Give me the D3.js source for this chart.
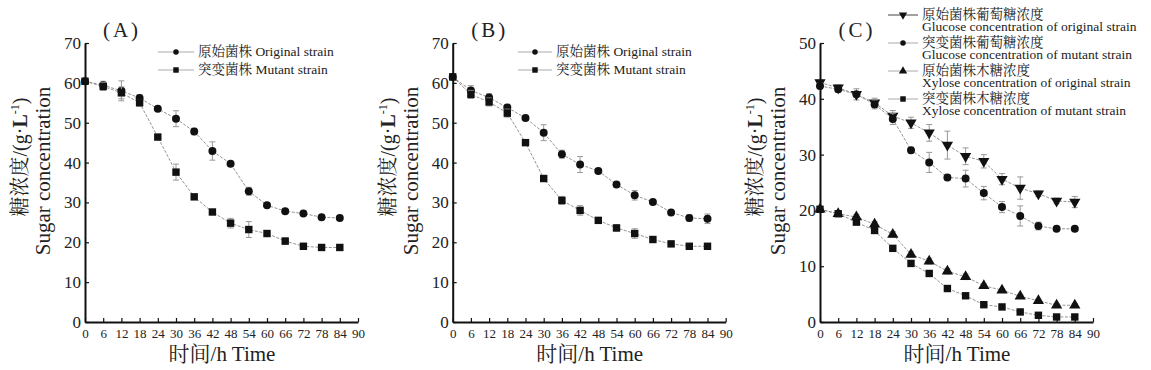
<!DOCTYPE html>
<html>
<head>
<meta charset="utf-8">
<script src="https://cdn.jsdelivr.net/npm/d3@7"></script>
<style>
  body { margin: 0; background: #fff; }
  svg { display: block; }
</style>
</head>
<body>
<svg id="chart" width="1151" height="370"></svg>
<script>
// time points (h)
const hours = [0, 6, 12, 18, 24, 30, 36, 42, 48, 54, 60, 66, 72, 78, 84];
const xTicks = [0, 6, 12, 18, 24, 30, 36, 42, 48, 54, 60, 66, 72, 78, 84, 90];

// panel A
const aOriginal = [60.4, 59.4, 58.0, 56.2, 53.5, 51.0, 47.8, 42.9, 39.7, 32.8, 29.3, 27.8, 27.2, 26.3, 26.1];
const aOriginalErr = [0.5, 1, 2.5, 0.8, 0.5, 2, 0.8, 2.3, 0.5, 1, 0.5, 0.5, 0.5, 0.5, 0.5];
const aMutant = [60.4, 59.1, 57.5, 55.0, 46.4, 37.6, 31.4, 27.6, 24.8, 23.2, 22.2, 20.3, 19.0, 18.7, 18.7];
const aMutantErr = [0.5, 1, 1.5, 0.8, 0.5, 2, 0.5, 0.5, 1.2, 2, 0.5, 0.8, 0.3, 0.3, 0.3];

// panel B
const bOriginal = [61.5, 58.1, 56.3, 53.8, 51.2, 47.5, 42.1, 39.5, 37.9, 34.5, 31.8, 30.1, 27.5, 26.1, 25.9];
const bOriginalErr = [0.5, 1.2, 1, 0.8, 0.5, 2, 1, 2, 0.5, 0.5, 1.2, 0.5, 0.5, 0.8, 1.2];
const bMutant = [61.5, 57.1, 55.2, 52.4, 45.0, 36.0, 30.5, 28.0, 25.5, 23.6, 22.2, 20.7, 19.6, 19.0, 19.0];
const bMutantErr = [0.5, 1, 1, 1, 0.5, 0.5, 1, 1.2, 0.5, 0.8, 1.2, 0.5, 0.3, 0.3, 0.3];

// panel C
const cGlucoseOriginal = [42.9, 42.0, 40.8, 39.3, 36.9, 35.7, 33.9, 31.7, 29.7, 28.8, 25.6, 24.0, 23.0, 21.7, 21.5];
const cGlucoseOriginalErr = [0.5, 0.5, 1, 0.8, 1, 1, 1.5, 2.5, 1.5, 1.2, 1, 2, 0.5, 0.5, 1];
const cGlucoseMutant = [42.3, 41.7, 40.8, 39.0, 36.4, 30.8, 28.6, 25.9, 25.7, 23.1, 20.6, 19.0, 17.2, 16.7, 16.7];
const cGlucoseMutantErr = [0.5, 0.5, 0.5, 0.8, 1, 0.5, 1.8, 0.5, 1.5, 1.2, 1, 1.8, 0.7, 0.3, 0.3];
const cXyloseOriginal = [20.2, 19.4, 18.8, 17.5, 15.7, 12.1, 10.9, 9.1, 8.1, 6.5, 5.7, 4.6, 3.8, 3.0, 3.0];
const cXyloseOriginalErr = [0.3, 0.3, 0.5, 0.5, 0.5, 0.5, 0.5, 0.5, 0.5, 0.3, 0.3, 0.3, 0.3, 0.3, 0.3];
const cXyloseMutant = [20.2, 19.4, 17.9, 16.4, 13.2, 10.5, 8.7, 6.0, 4.7, 3.1, 2.7, 1.8, 1.2, 0.9, 0.9];
const cXyloseMutantErr = [0.3, 0.3, 0.5, 0.5, 0.5, 0.5, 0.3, 0.3, 0.3, 0.3, 0.3, 0.3, 0.3, 0.3, 0.3];

const svg = d3.select("#chart");
const SERIF = "Liberation Serif";
const CJK = "Noto Serif CJK SC";
const INK = "#222";

const shapeTypes = {
  circle: d3.symbolCircle,
  square: d3.symbolSquare,
  triangle: d3.symbolTriangle,
  down: d3.symbolTriangle
};
const sym = (shape, size) => d3.symbol().type(shapeTypes[shape]).size(size)();

function drawPanel(cfg) {
  const x = d3.scaleLinear().domain([0, 90]).range([cfg.left, cfg.left + 273]);
  const y = d3.scaleLinear().domain([0, cfg.yMax]).range([322, 43]);
  const g = svg.append("g");

  // series
  cfg.series.forEach(s => {
    const pts = hours.map((h, i) => ({ h, v: s.values[i], e: s.err[i] }));
    g.append("path")
      .datum(pts)
      .attr("fill", "none")
      .attr("stroke", "#888")
      .attr("stroke-width", 0.9)
      .attr("stroke-dasharray", "3,1.5")
      .attr("d", d3.line().x(d => x(d.h)).y(d => y(d.v)));

    const eb = g.append("g").attr("stroke", "#999").attr("stroke-width", 1);
    pts.forEach(d => {
      const x0 = x(d.h);
      eb.append("line").attr("x1", x0).attr("x2", x0).attr("y1", y(d.v - d.e)).attr("y2", y(d.v + d.e));
      eb.append("line").attr("x1", x0 - 3).attr("x2", x0 + 3).attr("y1", y(d.v - d.e)).attr("y2", y(d.v - d.e));
      eb.append("line").attr("x1", x0 - 3).attr("x2", x0 + 3).attr("y1", y(d.v + d.e)).attr("y2", y(d.v + d.e));
    });

    g.selectAll(null)
      .data(pts)
      .join("path")
      .attr("d", sym(s.shape, s.shape === "circle" ? 50 : 55))
      .attr("transform", d => `translate(${x(d.h)},${y(d.v)})${s.shape === "down" ? " rotate(180)" : ""}`)
      .attr("fill", "#111");
  });

  // axes
  const xAxis = g.append("g")
    .attr("transform", "translate(0,322)")
    .call(d3.axisBottom(x).tickValues(xTicks).tickSizeInner(-4).tickSizeOuter(0).tickPadding(7));
  xAxis.select(".domain").attr("stroke", "#111").attr("stroke-width", 2);
  xAxis.selectAll(".tick line").attr("stroke", "#111").attr("stroke-width", 1.2);
  xAxis.selectAll("text")
    .attr("font-family", SERIF)
    .attr("font-size", 13)
    .attr("fill", INK);

  const yAxis = g.append("g")
    .attr("transform", `translate(${cfg.left},0)`)
    .call(d3.axisLeft(y).ticks(cfg.yMax / 10).tickSizeInner(-4).tickSizeOuter(0).tickPadding(4));
  yAxis.select(".domain").attr("stroke", "#111").attr("stroke-width", 2);
  yAxis.selectAll(".tick line").attr("stroke", "#111").attr("stroke-width", 1.2);
  yAxis.selectAll("text")
    .attr("font-family", SERIF)
    .attr("font-size", 17)
    .attr("fill", INK);

  // panel tag
  g.append("text")
    .attr("x", cfg.left + 37)
    .attr("y", 37)
    .attr("text-anchor", "middle")
    .attr("font-family", SERIF)
    .attr("font-size", 21)
    .attr("letter-spacing", "3px")
    .attr("fill", INK)
    .text(cfg.tag);

  // y labels
  const cn = g.append("text")
    .attr("transform", `translate(${cfg.left - 58},157) rotate(-90)`)
    .attr("text-anchor", "middle")
    .attr("font-family", SERIF)
    .attr("font-size", 20)
    .attr("fill", INK);
  cn.append("tspan").attr("font-family", CJK).text("糖浓度");
  cn.append("tspan").text("/(g·");
  cn.append("tspan").attr("font-weight", "bold").text("L");
  cn.append("tspan").attr("dy", -8).attr("font-size", 12).text("-1");
  cn.append("tspan").attr("dy", 8).text(")");

  g.append("text")
    .attr("transform", `translate(${cfg.left - 35},171) rotate(-90)`)
    .attr("text-anchor", "middle")
    .attr("font-family", SERIF)
    .attr("font-size", 21)
    .attr("fill", INK)
    .text("Sugar concentration");

  // x label
  const xl = g.append("text")
    .attr("x", cfg.left + 137)
    .attr("y", 361)
    .attr("text-anchor", "middle")
    .attr("font-family", SERIF)
    .attr("font-size", 21)
    .attr("fill", INK);
  xl.append("tspan").attr("font-family", CJK).text("时间");
  xl.append("tspan").text("/h  Time");

  // legend
  const lg = g.append("g");
  cfg.legend.forEach((item, i) => {
    const ly = cfg.legendY + i * cfg.legendStep;
    lg.append("line")
      .attr("x1", cfg.legendX).attr("x2", cfg.legendX + cfg.legendLen)
      .attr("y1", ly).attr("y2", ly)
      .attr("stroke", item.dark ? "#444" : "#aaa")
      .attr("stroke-width", 1);
    lg.append("path")
      .attr("d", sym(item.shape, item.shape === "circle" ? 24 : 30))
      .attr("transform", `translate(${cfg.legendX + cfg.legendLen / 2},${ly})${item.shape === "down" ? " rotate(180)" : ""}`)
      .attr("fill", "#111");
    item.lines.forEach((t, j) => {
      const tx = lg.append("text")
        .attr("x", cfg.legendX + cfg.legendLen + 4)
        .attr("y", ly + 4 + j * 12)
        .attr("font-family", SERIF)
        .attr("font-size", 13.5)
        .attr("fill", INK);
      t.forEach(part => {
        tx.append("tspan")
          .attr("font-family", part.cjk ? CJK : SERIF)
          .text(part.t);
      });
    });
  });
}

const abLegend = [
  { shape: "circle", lines: [[{ t: "原始菌株", cjk: true }, { t: " Original strain" }]] },
  { shape: "square", lines: [[{ t: "突变菌株", cjk: true }, { t: " Mutant strain" }]] }
];

drawPanel({
  left: 85, yMax: 70, tag: "(A)",
  series: [
    { values: aOriginal, err: aOriginalErr, shape: "circle" },
    { values: aMutant, err: aMutantErr, shape: "square" }
  ],
  legend: abLegend, legendX: 158, legendLen: 36, legendY: 52, legendStep: 18
});

drawPanel({
  left: 452.7, yMax: 70, tag: "(B)",
  series: [
    { values: bOriginal, err: bOriginalErr, shape: "circle" },
    { values: bMutant, err: bMutantErr, shape: "square" }
  ],
  legend: abLegend, legendX: 518, legendLen: 34, legendY: 52, legendStep: 18
});

drawPanel({
  left: 820, yMax: 50, tag: "(C)",
  series: [
    { values: cGlucoseOriginal, err: cGlucoseOriginalErr, shape: "down" },
    { values: cGlucoseMutant, err: cGlucoseMutantErr, shape: "circle" },
    { values: cXyloseOriginal, err: cXyloseOriginalErr, shape: "triangle" },
    { values: cXyloseMutant, err: cXyloseMutantErr, shape: "square" }
  ],
  legend: [
    { shape: "down", dark: true, lines: [[{ t: "原始菌株葡萄糖浓度", cjk: true }], [{ t: "Glucose concentration of original strain" }]] },
    { shape: "circle", lines: [[{ t: "突变菌株葡萄糖浓度", cjk: true }], [{ t: "Glucose concentration of mutant strain" }]] },
    { shape: "triangle", lines: [[{ t: "原始菌株木糖浓度", cjk: true }], [{ t: "Xylose concentration of original strain" }]] },
    { shape: "square", lines: [[{ t: "突变菌株木糖浓度", cjk: true }], [{ t: "Xylose concentration of mutant strain" }]] }
  ],
  legendX: 888, legendLen: 30, legendY: 15, legendStep: 28
});
</script>
</body>
</html>
